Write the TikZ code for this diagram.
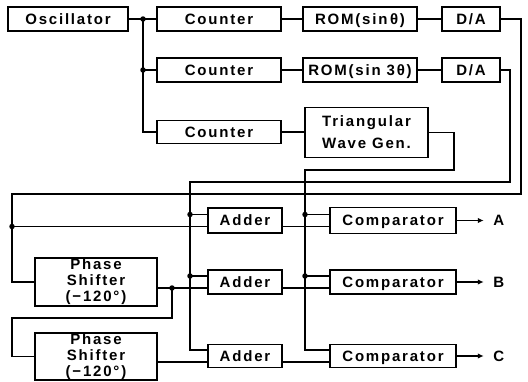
\documentclass[tikz,border=0pt]{standalone}
\usepackage{fontspec}
\setmainfont{Liberation Sans}[LetterSpace=12]
\usetikzlibrary{calc,arrows.meta}
\begin{document}
\begin{tikzpicture}[x=1pt,y=-1pt,
  line width=1.4pt,
  blk/.style={draw,line width=1.5pt,inner sep=0pt,align=center,
    font=\fontsize{15}{16}\selectfont\bfseries},
  one/.style={text height=10.8pt,text depth=0pt},
  lbl/.style={inner sep=0pt,font=\fontsize{15}{16}\selectfont\bfseries},
  dot/.style={circle,fill,inner sep=0pt,minimum size=5.5pt},
  outarrow/.style={-{Latex[length=6pt,width=5.5pt]}}]
\useasboundingbox (0,0) rectangle (528,381);
% top rows
\node[blk,one,minimum width=120pt,minimum height=24pt] (osc) at (68,19) {Oscillator};
\node[blk,one,minimum width=124pt,minimum height=24pt] (cnt1) at (219,19) {Counter};
\node[blk,one,minimum width=114pt,minimum height=24pt] (rom1) at (360,19) {ROM(sin\,θ)};
\node[blk,one,minimum width=58pt,minimum height=24pt] (da1) at (471,19) {D/A};
\node[blk,one,minimum width=124pt,minimum height=24pt] (cnt2) at (219,70) {Counter};
\node[blk,one,minimum width=114pt,minimum height=24pt] (rom2) at (360,70) {ROM(sin 3θ)};
\node[blk,one,minimum width=58pt,minimum height=24pt] (da2) at (471,70) {D/A};
\node[blk,one,minimum width=124pt,minimum height=23pt] (cnt3) at (219,132) {Counter};
\node[blk,minimum width=123pt,minimum height=50pt,
  font=\fontsize{15}{22}\selectfont\bfseries] (tri) at (366.5,132.5) {Triangular\\Wave Gen.};
% lower part
\node[blk,one,minimum width=74pt,minimum height=25pt] (add1) at (245,220.5) {Adder};
\node[blk,one,minimum width=74pt,minimum height=24pt] (add2) at (245,282) {Adder};
\node[blk,one,minimum width=74pt,minimum height=23pt] (add3) at (245,356) {Adder};
\node[blk,one,minimum width=126pt,minimum height=26pt] (cmp1) at (393,220.5) {Comparator};
\node[blk,one,minimum width=126pt,minimum height=24pt] (cmp2) at (393,282) {Comparator};
\node[blk,one,minimum width=126pt,minimum height=23pt] (cmp3) at (393,356) {Comparator};
\node[blk,minimum width=122pt,minimum height=48pt] (ps1) at (96,282) {Phase\\Shifter\\(−120°)};
\node[blk,minimum width=122pt,minimum height=47pt] (ps2) at (96,356.5) {Phase\\Shifter\\(−120°)};
% bus x positions
\coordinate (xO) at (143,0);
\coordinate (xL) at (12,0);
\coordinate (xD) at (190,0);
\coordinate (xT) at (305,0);
\coordinate (xP) at (172,0);
% oscillator fan-out
\draw (osc.east) -- (cnt1.west);
\draw (osc.east -| xO) |- (cnt3.west);
\draw (cnt2.west -| xO) -- (cnt2.west);
\node[dot] (j1) at (osc.east -| xO) {};
\node[dot] (j2) at (cnt2.west -| xO) {};
\draw (cnt1) -- (rom1); \draw (rom1) -- (da1);
\draw (cnt2) -- (rom2); \draw (rom2) -- (da2);
\draw (cnt3) -- (cnt3 -| tri.west);
% input/output points
\coordinate (a1u) at ($(add1.west)+(0,-6)$);
\coordinate (a1l) at ($(add1.west)+(0,6)$);
\coordinate (a2u) at ($(add2.west)+(0,-6)$);
\coordinate (a2l) at ($(add2.west)+(0,6)$);
\coordinate (a3u) at ($(add3.west)+(0,-6)$);
\coordinate (a3l) at ($(add3.west)+(0,6)$);
\coordinate (c1u) at ($(cmp1.west)+(0,-6)$);
\coordinate (c2u) at ($(cmp2.west)+(0,-6)$);
\coordinate (c3u) at ($(cmp3.west)+(0,-6)$);
% D/A (sin theta) -> adder 1 and phase shifter chain
\draw (da1.east) -| (521,194) -- (xL |- 0,194) |- (ps1.west);
\draw (a1l -| xL) -- (a1l);
\node[dot] at (a1l -| xL) {};
% D/A (sin 3 theta) bus
\draw (da2.east) -| (510,182) -- (xD |- 0,182) |- (a3u);
\draw (a1u -| xD) -- (a1u);
\draw (a2u -| xD) -- (a2u);
\node[dot] at (a1u -| xD) {};
\node[dot] at (a2u -| xD) {};
% triangular wave bus
\draw (tri.east) -| (454,170) -- (xT |- 0,170) |- (c3u);
\draw (c1u -| xT) -- (c1u);
\draw (c2u -| xT) -- (c2u);
\node[dot] at (c1u -| xT) {};
\node[dot] at (c2u -| xT) {};
% phase shifters
\draw (ps1.east |- a2l) -- (a2l);
\node[dot] at (a2l -| xP) {};
\draw (a2l -| xP) -- (xP |- 0,318) -- (xL |- 0,318) |- (ps2.west);
\draw (ps2.east |- a3l) -- (a3l);
% adders to comparators
\draw (add1.east |- a1l) -- (cmp1.west |- a1l);
\draw (add2.east |- a2l) -- (cmp2.west |- a2l);
\draw (add3.east |- a3l) -- (cmp3.west |- a3l);
% outputs
\coordinate (e1) at ($(cmp1.east)+(27,0)$);
\coordinate (e2) at ($(cmp2.east)+(27,0)$);
\coordinate (e3) at ($(cmp3.east)+(27,0)$);
\draw[outarrow] (cmp1.east) -- (e1);
\draw[outarrow] (cmp2.east) -- (e2);
\draw[outarrow] (cmp3.east) -- (e3);
\node[lbl,anchor=west] (oA) at ($(e1)+(9,0)$) {A};
\node[lbl,anchor=west] (oB) at ($(e2)+(9,0)$) {B};
\node[lbl,anchor=west] (oC) at ($(e3)+(9,0)$) {C};
\end{tikzpicture}
\end{document}
